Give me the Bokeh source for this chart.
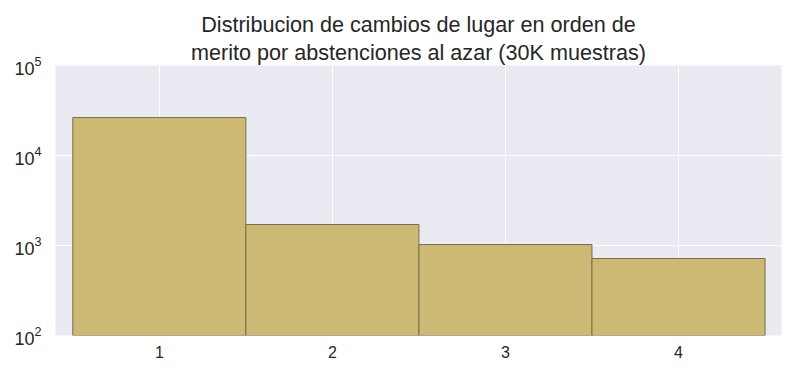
from bokeh.plotting import figure
from bokeh.models import Range1d, FixedTicker, LogTickFormatter, Title
from bokeh.embed import file_html
from bokeh.resources import INLINE

places = [1, 2, 3, 4]
counts = [26400, 1710, 1025, 717]
y_ticks = [100, 1000, 10000, 100000]
title_lines = ["Distribucion de cambios de lugar en orden de",
               "merito por abstenciones al azar (30K muestras)"]

p = figure(width=800, height=378, y_axis_type="log", output_backend="svg",
           toolbar_location=None,
           x_range=Range1d(0.4, 4.595), y_range=Range1d(100, 100000),
           min_border_left=55, min_border_right=19, min_border_top=65,
           min_border_bottom=43)


def style_title(t):
    t.align = "center"
    t.text_font = "Liberation Sans"
    t.text_font_size = "21.6px"
    t.text_font_style = "normal"
    t.text_color = "#262626"
    t.standoff = 0
    return t


p.title.text = title_lines[0]
style_title(p.title)
p.add_layout(style_title(Title(text=title_lines[1])), "above")
p.above[-1].standoff = 2

p.background_fill_color = "#EAEAF2"
p.border_fill_color = "white"
p.outline_line_color = None

p.vbar(x=places, top=counts, bottom=1, width=1.0,
       fill_color="#CCB974", line_color="#7a6e48", line_width=1)

p.xaxis.ticker = FixedTicker(ticks=places)
p.yaxis.ticker = FixedTicker(ticks=y_ticks)
p.yaxis.formatter = LogTickFormatter()
for ax in [p.xaxis[0], p.yaxis[0]]:
    ax.axis_line_color = None
    ax.major_tick_line_color = None
    ax.minor_tick_line_color = None
    ax.major_label_text_font = "Liberation Sans"
    ax.major_label_text_color = "#262626"
p.xaxis.major_label_text_font_size = "16px"
p.yaxis.major_label_text_font_size = "18px"
p.xaxis.major_label_standoff = 4
p.yaxis.major_label_standoff = 8

p.xgrid.ticker = FixedTicker(ticks=places)
p.ygrid.ticker = FixedTicker(ticks=y_ticks)
p.grid.grid_line_color = "white"
p.grid.grid_line_width = 1
p.grid.level = "image"

open("out.html", "w").write(file_html(p, INLINE))
